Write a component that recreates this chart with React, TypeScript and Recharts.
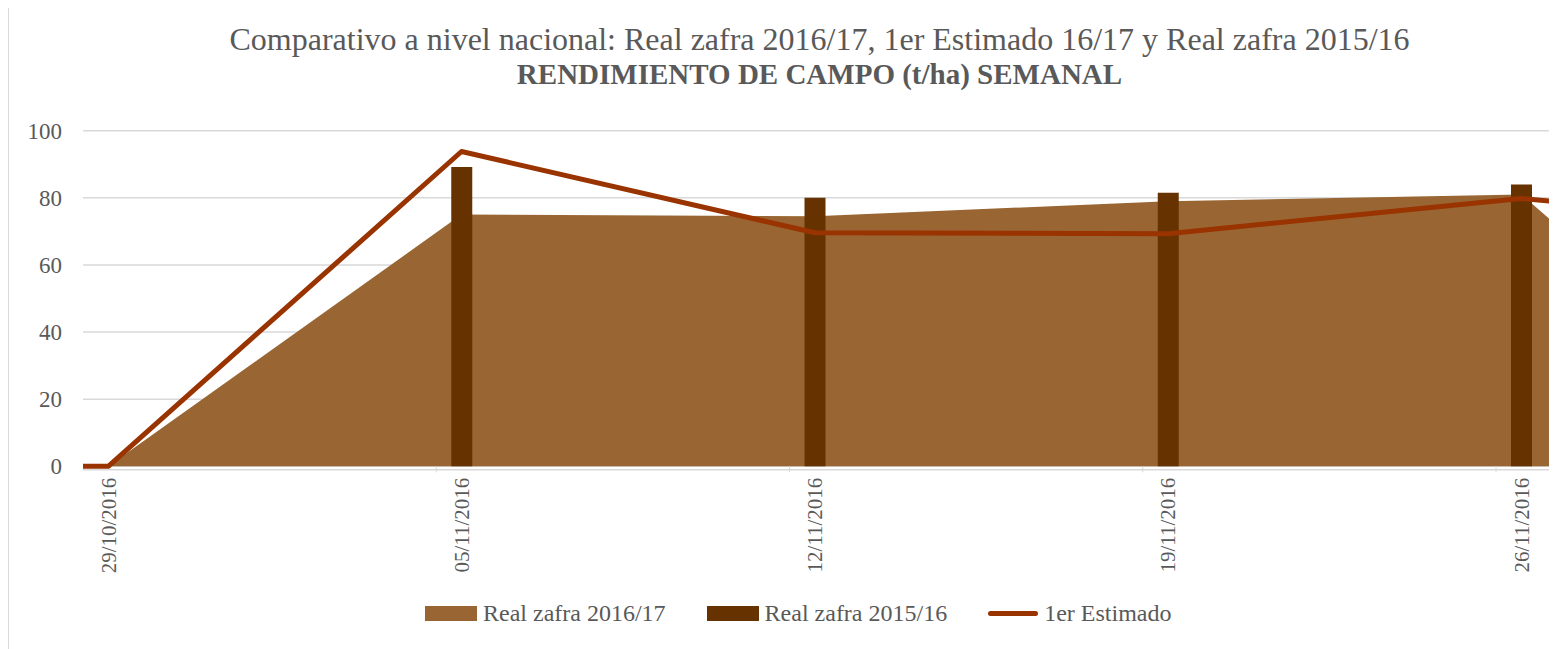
import React from "react"
import { ComposedChart, Area, Bar, Line, XAxis, YAxis, CartesianGrid } from "recharts"

// Weekly dates; day offset counted from 29/10/2016
const dates = ["28/10/2016", "29/10/2016", "05/11/2016", "12/11/2016", "19/11/2016", "26/11/2016", "27/11/2016"]
const dayIndex = [-1, 0, 7, 14, 21, 28, 29]

// Rendimiento de campo (t/ha)
const real1617 = [null, 0, 75, 74.5, 79, 81, 68]
const real1516 = [null, 0, 89.2, 80, 81.5, 84, null]
const estimado = [0, 0, 93.8, 69.6, 69.3, 79.8, 78.5]

const labelTicks = [0, 7, 14, 21, 28]
const markTicks = [6.5, 13.5, 20.5, 27.5]
const yTicks = [0, 20, 40, 60, 80, 100]

const COLOR_AREA = "#996633"
const COLOR_BAR = "#663300"
const COLOR_LINE = "#993300"
const TEXT = "#595959"
const GRID = "#d9d9d9"
const FONT = "'Liberation Serif', 'Times New Roman', serif"

const data = dayIndex.map((d, i) => ({
  day: d,
  label: dates[i],
  real1617: real1617[i],
  real1516: real1516[i],
  estimado: estimado[i],
}))

// y = plot bottom + 8; value 0 sits ~3.4px above plot bottom
const XTick = ({ x, y, payload }: any) => {
  const v = payload.value
  if (!Number.isInteger(v)) {
    return <line x1={x} x2={x} y1={y - 11.3} y2={y - 5.3} stroke={GRID} strokeWidth={1} />
  }
  const label = dates[dayIndex.indexOf(v)]
  return (
    <text
      x={x}
      y={y}
      transform={`rotate(-90, ${x}, ${y})`}
      textAnchor="end"
      dy="0.35em"
      fill={TEXT}
      fontSize={21}
      fontFamily={FONT}
    >
      {label}
    </text>
  )
}

const legendItems = [
  { name: "Real zafra 2016/17", color: COLOR_AREA, kind: "box" },
  { name: "Real zafra 2015/16", color: COLOR_BAR, kind: "box" },
  { name: "1er Estimado", color: COLOR_LINE, kind: "line" },
]

export default function App() {
  return (
    <div
      style={{
        position: "relative",
        width: 1558,
        height: 660,
        border: `1px solid ${GRID}`,
        marginTop: -1,
        background: "#fff",
        fontFamily: FONT,
      }}
    >
      <svg width={1621} height={100} style={{ position: "absolute", left: 0, top: 0 }}>
        <text x={810.5} y={42} textAnchor="middle" fontSize={32} fill={TEXT} fontFamily={FONT}>
          Comparativo a nivel nacional: Real zafra 2016/17, 1er Estimado 16/17 y Real zafra 2015/16
        </text>
        <text x={810.5} y={76} textAnchor="middle" fontSize={29} fontWeight="bold" fill={TEXT} fontFamily={FONT}>
          RENDIMIENTO DE CAMPO (t/ha) SEMANAL
        </text>
      </svg>

      <div style={{ position: "absolute", left: 0, top: 0 }}>
        <ComposedChart width={1558} height={581.7} data={data} margin={{ top: 122.7, right: 18, bottom: 0, left: 14 }}>
          <CartesianGrid vertical={false} stroke={GRID} strokeWidth={1.5} />
          <XAxis
            type="number"
            dataKey="day"
            domain={[-0.5, 28.55]}
            allowDataOverflow
            ticks={[...labelTicks, ...markTicks].sort((a, b) => a - b)}
            interval={0}
            tickLine={false}
            axisLine={false}
            height={120}
            tick={<XTick />}
          />
          <YAxis
            type="number"
            domain={[-1, 100]}
            ticks={yTicks}
            axisLine={false}
            tickLine={false}
            width={60}
            tickMargin={15}
            tick={{ fill: TEXT, fontSize: 23, fontFamily: FONT }}
          />
          <Area
            type="linear"
            dataKey="real1617"
            fill={COLOR_AREA}
            fillOpacity={1}
            stroke="none"
            isAnimationActive={false}
          />
          <Bar dataKey="real1516" fill={COLOR_BAR} barSize={21} isAnimationActive={false} />
          <Line
            type="linear"
            dataKey="estimado"
            stroke={COLOR_LINE}
            strokeWidth={5}
            strokeLinejoin="round"
            dot={false}
            activeDot={false}
            isAnimationActive={false}
          />
        </ComposedChart>
      </div>

      <div
        style={{
          position: "absolute",
          left: 416,
          top: 592,
          display: "flex",
          alignItems: "center",
          fontSize: 24,
          color: TEXT,
          whiteSpace: "nowrap",
        }}
      >
        {legendItems.map((it) => (
          <div key={it.name} style={{ display: "flex", alignItems: "center", marginRight: 41 }}>
            {it.kind === "box" ? (
              <span style={{ display: "inline-block", width: 52, height: 15, background: it.color, marginRight: 6 }} />
            ) : (
              <span
                style={{
                  display: "inline-block",
                  width: 50,
                  height: 5,
                  borderRadius: 3,
                  background: it.color,
                  marginRight: 6,
                }}
              />
            )}
            <span>{it.name}</span>
          </div>
        ))}
      </div>
    </div>
  )
}
